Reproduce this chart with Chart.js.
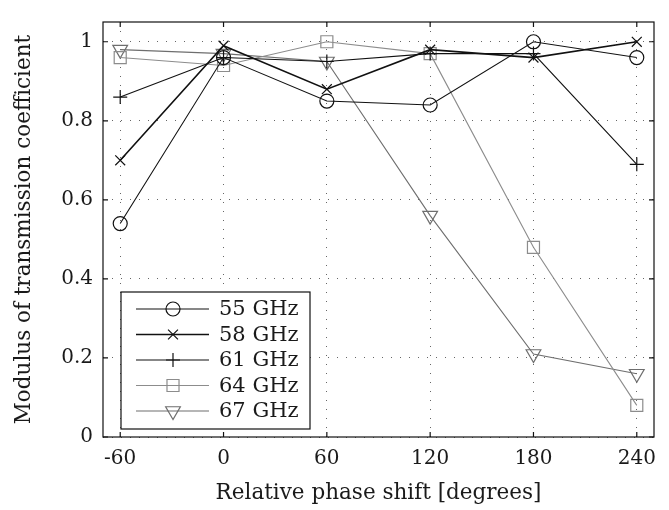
<!DOCTYPE html>
<html>
<head>
<meta charset="utf-8">
<script src="https://cdn.jsdelivr.net/npm/chart.js@4.4.1/dist/chart.umd.min.js"></script>
<style>
  html, body { margin: 0; padding: 0; background: #fff; }
  #wrap { width: 669px; height: 510px; position: relative; }
</style>
</head>
<body>
<div id="wrap"><canvas id="chart"></canvas></div>
<script>
const phaseShifts = [-60, 0, 60, 120, 180, 240];
const xTicks = [-60, 0, 60, 120, 180, 240];
const yTicks = [0, 0.2, 0.4, 0.6, 0.8, 1];
const seriesLabels = ["55 GHz", "58 GHz", "61 GHz", "64 GHz", "67 GHz"];
const t55 = [0.54, 0.96, 0.85, 0.84, 1.00, 0.96];
const t58 = [0.70, 0.99, 0.88, 0.98, 0.96, 1.00];
const t61 = [0.86, 0.96, 0.95, 0.97, 0.97, 0.69];
const t64 = [0.96, 0.94, 1.00, 0.97, 0.48, 0.08];
const t67 = [0.98, 0.97, 0.95, 0.56, 0.21, 0.16];

const FONT = "'DejaVu Serif', 'Liberation Serif', serif";
const TEXT = "#1a1a1a";

const styles = [
  { color: "#111", pointStyle: "circle", radius: 7, rotation: 0, width: 1.1 },
  { color: "#111", pointStyle: "crossRot", radius: 7, rotation: 0, width: 1.6 },
  { color: "#111", pointStyle: "cross", radius: 7, rotation: 0, width: 1.1 },
  { color: "#8c8c8c", pointStyle: "rect", radius: 8.5, rotation: 0, width: 1.1 },
  { color: "#6e6e6e", pointStyle: "triangle", radius: 8.5, rotation: 180, width: 1.1 }
];

function makeDataset(label, values, i) {
  const s = styles[i];
  return {
    label: label,
    data: values.map((v, k) => ({ x: phaseShifts[k], y: v })),
    borderColor: s.color,
    borderWidth: s.width,
    pointStyle: s.pointStyle,
    pointRadius: s.radius,
    pointRotation: s.rotation,
    pointBorderColor: s.color,
    pointBorderWidth: 1.2,
    pointBackgroundColor: "rgba(0,0,0,0)",
    tension: 0,
    fill: false
  };
}

// box around the plot, inward ticks and the boxed legend in the lower left
const framePlugin = {
  id: "frame",
  afterDatasetsDraw(chart) {
    const { ctx, chartArea: a, scales: { x, y } } = chart;
    ctx.save();
    ctx.strokeStyle = "#111";
    ctx.lineWidth = 1.2;
    ctx.strokeRect(a.left, a.top, a.right - a.left, a.bottom - a.top);
    ctx.beginPath();
    xTicks.forEach(v => {
      const px = x.getPixelForValue(v);
      ctx.moveTo(px, a.bottom); ctx.lineTo(px, a.bottom - 5);
      ctx.moveTo(px, a.top); ctx.lineTo(px, a.top + 5);
    });
    yTicks.forEach(v => {
      const py = y.getPixelForValue(v);
      ctx.moveTo(a.left, py); ctx.lineTo(a.left + 5, py);
      ctx.moveTo(a.right, py); ctx.lineTo(a.right - 5, py);
    });
    ctx.stroke();
    ctx.restore();
  },
  afterDraw(chart) {
    const { ctx, chartArea: a } = chart;
    const w = 189, h = 137;
    const left = a.left + 18, top = a.bottom - 8 - h;
    ctx.save();
    ctx.fillStyle = "#fff";
    ctx.fillRect(left, top, w, h);
    ctx.strokeStyle = "#111";
    ctx.lineWidth = 1.2;
    ctx.strokeRect(left, top, w, h);
    chart.data.datasets.forEach((ds, i) => {
      const s = styles[i];
      const cy = top + 17 + i * 25.5;
      ctx.strokeStyle = s.color;
      ctx.lineWidth = s.width;
      ctx.beginPath();
      ctx.moveTo(left + 15, cy);
      ctx.lineTo(left + 88, cy);
      ctx.stroke();
      ctx.fillStyle = "rgba(0,0,0,0)";
      ctx.lineWidth = 1.2;
      Chart.helpers.drawPoint(ctx, {
        pointStyle: s.pointStyle,
        radius: s.radius,
        rotation: s.rotation,
        borderWidth: 1.2
      }, left + 52, cy);
      ctx.fillStyle = TEXT;
      ctx.font = "21px " + FONT;
      ctx.textBaseline = "middle";
      ctx.textAlign = "left";
      ctx.fillText(ds.label, left + 98, cy + 1);
    });
    ctx.restore();
  }
};

new Chart(document.getElementById("chart"), {
  type: "line",
  data: {
    datasets: [t55, t58, t61, t64, t67].map((v, i) => makeDataset(seriesLabels[i], v, i))
  },
  options: {
    animation: false,
    responsive: true,
    maintainAspectRatio: false,
    layout: { padding: { top: 7, right: 15, left: 0, bottom: 0 } },
    plugins: {
      legend: { display: false },
      tooltip: { enabled: false }
    },
    scales: {
      x: {
        type: "linear",
        min: -70,
        max: 250,
        afterBuildTicks: scale => { scale.ticks = xTicks.map(v => ({ value: v })); },
        afterFit: scale => { scale.height = 73; },
        ticks: {
          color: TEXT,
          padding: 10,
          maxRotation: 0,
          font: { family: FONT, size: 20 },
          callback: v => String(v)
        },
        grid: { color: "#666", lineWidth: 1, drawTicks: false },
        border: { display: false, dash: [1, 8] },
        title: {
          display: true,
          text: "Relative phase shift [degrees]",
          color: TEXT,
          font: { family: FONT, size: 21.5 },
          padding: { top: 0, bottom: 4 }
        }
      },
      y: {
        min: 0,
        max: 1.05,
        afterBuildTicks: scale => { scale.ticks = yTicks.map(v => ({ value: v })); },
        afterFit: scale => { scale.width = 103; },
        ticks: {
          color: TEXT,
          padding: 10,
          font: { family: FONT, size: 20 },
          callback: v => String(v)
        },
        grid: { color: "#666", lineWidth: 1, drawTicks: false },
        border: { display: false, dash: [1, 8] },
        title: {
          display: true,
          text: "Modulus of transmission coefficient",
          color: TEXT,
          font: { family: FONT, size: 21.5 },
          padding: { top: 12, bottom: 0 }
        }
      }
    }
  },
  plugins: [framePlugin]
});
</script>
</body>
</html>
